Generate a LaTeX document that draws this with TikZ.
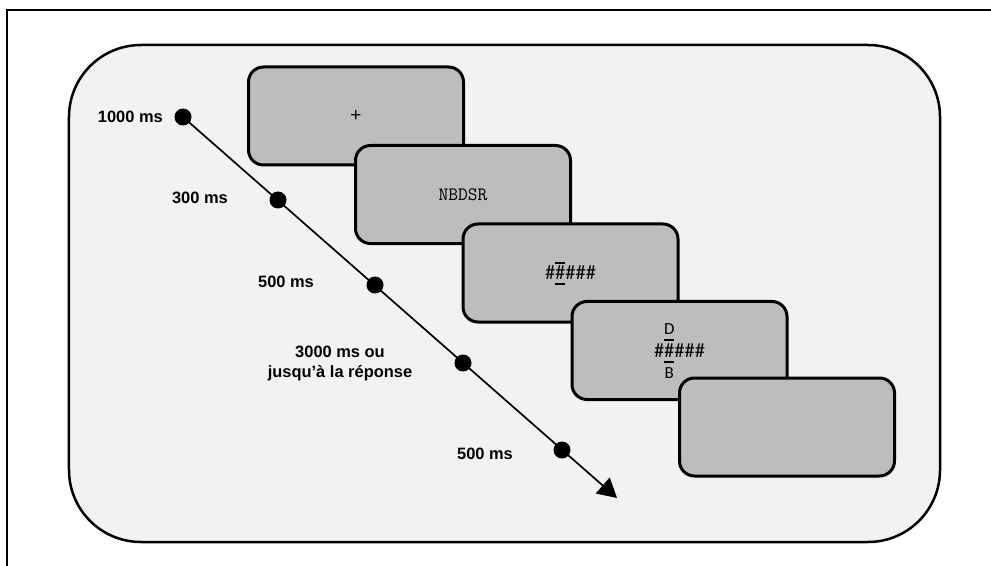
\documentclass[tikz,border=0pt]{standalone}
\usepackage{fontspec}
\setmainfont{Liberation Sans}
\newfontfamily\calfont{Carlito}
\usetikzlibrary{arrows.meta}
\definecolor{panelg}{HTML}{F2F2F2}
\definecolor{boxg}{HTML}{BDBDBD}
\newcommand\barrule{\rule{10bp}{2bp}}
\newcommand\hashA{\ooalign{\#\cr
\hidewidth\smash{\raisebox{16bp}{\barrule}}\hidewidth\cr
\hidewidth\smash{\raisebox{-5.5bp}{\barrule}}\hidewidth\cr}}
\newcommand\hashB{\ooalign{\#\cr
\hidewidth\smash{\raisebox{16bp}{\barrule}}\hidewidth\cr
\hidewidth\smash{\raisebox{-5.5bp}{\barrule}}\hidewidth\cr
\hidewidth\smash{\raisebox{22.5bp}{\fontsize{17}{20}\selectfont D}}\hidewidth\cr
\hidewidth\smash{\raisebox{-21bp}{\fontsize{17}{20}\selectfont B}}\hidewidth\cr}}
\begin{document}
\begin{tikzpicture}[x=1bp,y=-1bp,
  panelbox/.style={draw=black,line width=2.5bp,fill=panelg,rounded corners=72bp,
    minimum width=871bp,minimum height=497bp,inner sep=0pt},
  stim/.style={draw=black,line width=3bp,fill=boxg,rounded corners=15bp,
    minimum width=215bp,minimum height=98bp,inner sep=0pt},
  dot/.style={circle,fill=black,minimum size=17bp,inner sep=0pt},
  lab/.style={font=\bfseries\fontsize{16.5}{21}\selectfont,inner sep=0pt,align=center},
  tline/.style={line width=1.7bp,-{Triangle[length=19bp,width=21bp]}}]
\useasboundingbox (0,0) rectangle (991,566);
\draw[line width=2bp] (7,566) -- (7,10) -- (991,10);
\node[panelbox] (panel) at (504.5,293.5) {};
\node[stim] (b1) at (356,116) {\fontsize{19}{20}\selectfont +};
\node[stim] (b2) at (463,194.5) {\fontsize{19}{20}\selectfont\ttfamily NBDSR};
\node[stim] (b3) at (570.5,273) {\calfont\fontsize{20.5}{22}\selectfont \#\hashA\#\#\#};
\node[stim] (b4) at (679.5,350.5) {\calfont\fontsize{20.5}{22}\selectfont \#\hashB\#\#\#};
\node[stim] (b5) at (787,427) {};
\coordinate (tip) at (617,498);
\draw[tline] (183,117) coordinate (start) -- (tip);
\node[dot] (d1) at (start) {};
\node[dot] (d2) at (278,200) {};
\node[dot] (d3) at (375,285) {};
\node[dot] (d4) at (463,363) {};
\node[dot] (d5) at (562,450) {};
\node[lab,anchor=east] (l1) at (163,117) {1000 ms};
\node[lab,anchor=east] (l2) at (228,198) {300 ms};
\node[lab] (l3) at (286,282) {500 ms};
\node[lab] (l4) at (340,363.5) {3000 ms ou\\jusqu’à la réponse};
\node[lab] (l5) at (485,454) {500 ms};
\end{tikzpicture}
\end{document}
